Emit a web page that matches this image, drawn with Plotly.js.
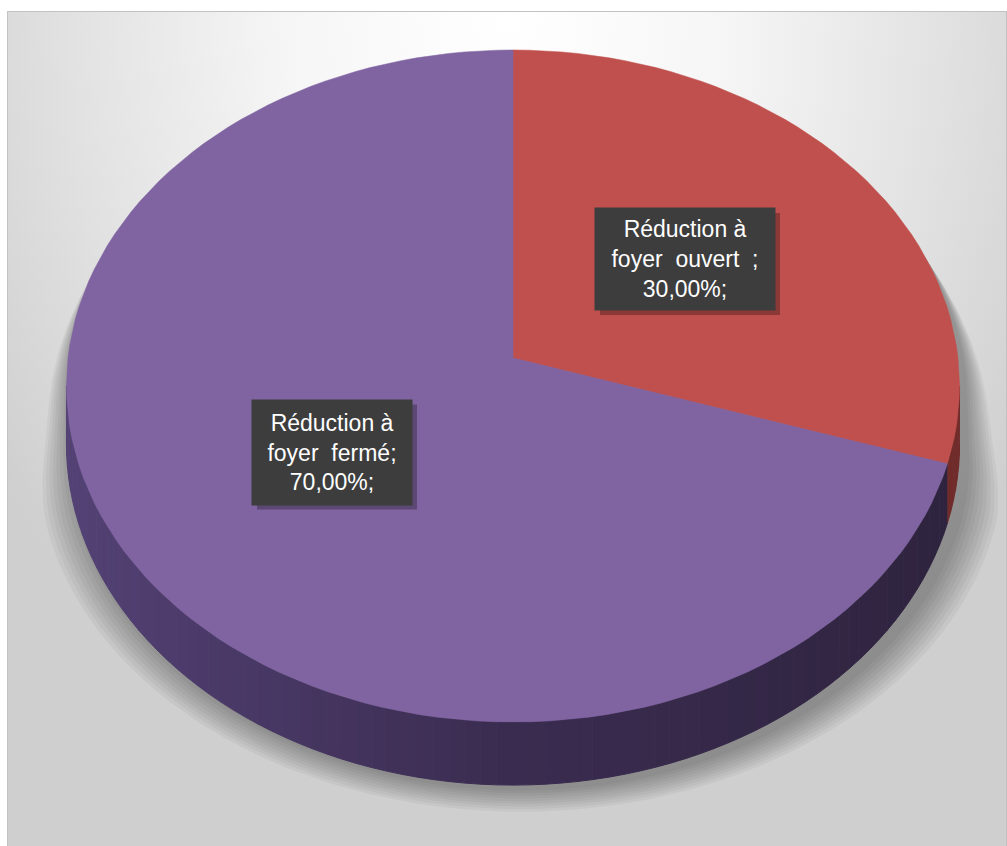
<!DOCTYPE html>
<html>
<head>
<meta charset="utf-8">
<script src="https://cdn.plot.ly/plotly-3.0.1.min.js"></script>
<style>
  html, body { margin: 0; padding: 0; background: #ffffff; }
  #wrap { position: relative; width: 1007px; height: 846px; overflow: hidden; }
  #bg {
    position: absolute; left: 7px; top: 11px; width: 998px; height: 845px;
    border-top: 1px solid #c2c2c2; border-left: 1px solid #c2c2c2; border-right: 1px solid #c2c2c2;
    background: radial-gradient(ellipse 62% 95% at 50% 0%, #ffffff 0%, #f6f6f6 35%, #e2e2e2 70%, #cfcfcf 100%);
  }
  #chart { position: absolute; left: 0; top: 0; width: 1007px; height: 846px; }
</style>
</head>
<body>
<div id="wrap"><div id="bg"></div><div id="chart"></div></div>
<script>
// ---- data ----
const categories = ["Réduction à foyer ouvert", "Réduction à foyer fermé"];
const values = [30.00, 70.00];
const labelLines = [
  ["Réduction à", "foyer\u00a0\u00a0ouvert\u00a0\u00a0;"],
  ["Réduction à", "foyer\u00a0\u00a0fermé;"]
];
const topColors = ["#C0504D", "#8064A2"];

// ---- geometry (style / placement) ----
const CX = 513, CY = 358, A = 445, B = 333.7, K = 0.0833, DEPTH = 57.8;
function proj(theta, down) {
  const u = Math.sin(theta), v = Math.cos(theta);
  const d = 1 + K * v;
  return [CX + A * u / d, CY - B * v / d + (down ? DEPTH / d : 0)];
}
function arc(t0, t1, n, down) {
  const xs = [], ys = [];
  for (let i = 0; i <= n; i++) {
    const p = proj(t0 + (t1 - t0) * i / n, down);
    xs.push(p[0]); ys.push(p[1]);
  }
  return [xs, ys];
}
const total = values.reduce((a, b) => a + b, 0);
const bounds = [0];
values.forEach(v => bounds.push(bounds[bounds.length - 1] + 2 * Math.PI * v / total));

const thR = Math.acos(-K);
const thL = 2 * Math.PI - Math.acos(-K);

const traces = [];
function poly(xs, ys, color, lw) {
  traces.push({type: 'scatter', mode: 'lines', x: xs, y: ys, fill: 'toself',
    fillcolor: color, line: {width: lw || 0, color: color}, hoverinfo: 'skip', showlegend: false});
}

// soft shadow of the solid (stronger towards the bottom)
{
  const top = arc(thL - 2 * Math.PI, thR, 120, false);
  const bot = arc(thR, thL, 120, true);
  const sx = top[0].concat(bot[0]), sy = top[1].concat(bot[1]);
  const RY = CY + 50;
  for (let i = 9; i >= 1; i--) {
    const ky = 1 + i * 0.003;
    const ox = CX + 8, oy = RY + 3 + i * 1.5;
    const xs = sx.map((x, j) => {
      const t = Math.min(1, Math.max(0, (sy[j] - 200) / 300));
      return ox + (x - CX) * (1 + i * 0.009 * t) - 8 * (1 - t);
    });
    poly(xs, sy.map(y => oy + (y - RY) * ky), 'rgba(0,0,0,0.04)');
  }
}

// side wall segments
function lerp(a, b, t) { return a.map((x, i) => Math.round(x + (b[i] - x) * t)); }
function sideColor(theta, sliceIdx) {
  const u = Math.sin(theta);
  let c;
  if (sliceIdx === 1) {
    const L = [84, 66, 118], M = [58, 44, 80], R = [46, 35, 62];
    c = u < 0 ? lerp(M, L, -u) : lerp(M, R, u);
  } else {
    c = [112, 44, 42];
  }
  return 'rgb(' + c.join(',') + ')';
}
{
  const N = 90;
  for (let i = 0; i < N; i++) {
    const a = thR + (thL - thR) * i / N, b = thR + (thL - thR) * (i + 1) / N;
    const mid = (a + b) / 2;
    const slice = mid < bounds[1] ? 0 : 1;
    const t = arc(a, b, 2, false), d = arc(b, a, 2, true);
    poly(t[0].concat(d[0]), t[1].concat(d[1]), sideColor(mid, slice), 1);
  }
}

// top slices
values.forEach((v, i) => {
  const n = Math.max(8, Math.round(160 * v / total));
  const a = arc(bounds[i], bounds[i + 1], n, false);
  poly([CX].concat(a[0]).concat([CX]), [CY].concat(a[1]).concat([CY]), topColors[i], 0.5);
});

// labels (box shadow as shapes, label as annotation)
const fmt = v => v.toFixed(2).replace('.', ',') + '%;';
const labelPos = [[685, 259, 180, 102], [332, 452, 160, 105]];
const annotations = [], shapes = [];
values.forEach((v, i) => {
  const txt = labelLines[i].join('<br>') + '<br>' + fmt(v);
  const [x, y, w, h] = labelPos[i];
  shapes.push({type: 'rect', xref: 'x', yref: 'y', layer: 'above',
    x0: x - w / 2 + 5, x1: x + w / 2 + 5, y0: y - h / 2 + 5, y1: y + h / 2 + 5,
    fillcolor: 'rgba(0,0,0,0.28)', line: {width: 0}});
  annotations.push({x: x, y: y, xref: 'x', yref: 'y', text: txt, showarrow: false,
    width: w - 8, height: h - 8, borderpad: 4, bgcolor: '#3d3d3d', align: 'center',
    font: {family: 'Liberation Sans, Arial, sans-serif', size: 23, color: '#ffffff'}});
});

const layout = {
  width: 1007, height: 846,
  margin: {l: 0, r: 0, t: 0, b: 0, pad: 0},
  paper_bgcolor: 'rgba(0,0,0,0)', plot_bgcolor: 'rgba(0,0,0,0)',
  xaxis: {range: [0, 1007], visible: false, fixedrange: true},
  yaxis: {range: [846, 0], visible: false, fixedrange: true},
  showlegend: false,
  shapes: shapes,
  annotations: annotations
};
Plotly.newPlot('chart', traces, layout, {displayModeBar: false, staticPlot: true});
</script>
</body>
</html>
